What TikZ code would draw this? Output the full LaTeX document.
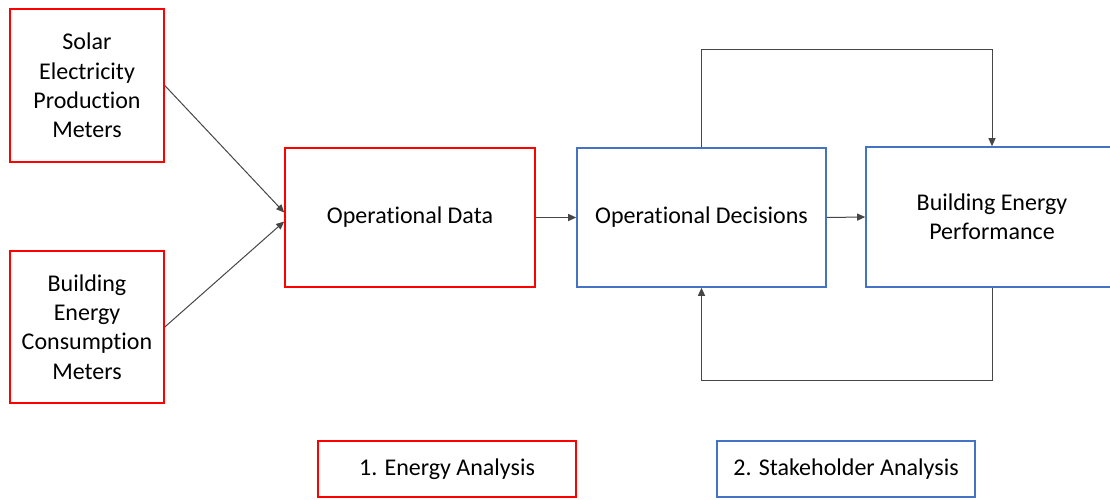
\documentclass[tikz,border=0pt]{standalone}
\usepackage{fontspec}
\setmainfont[Ligatures={NoCommon,NoRare}]{Carlito}
\usetikzlibrary{arrows.meta,calc}
\definecolor{boxred}{RGB}{255,0,0}
\definecolor{boxblue}{RGB}{68,114,196}
\definecolor{conn}{RGB}{70,70,70}
\tikzset{
  redbox/.style={draw=boxred, line width=1.6bp, fill=white, align=center, inner sep=2bp,
    font=\fontsize{24bp}{29.3bp}\selectfont},
  bluebox/.style={draw=boxblue, line width=1.6bp, fill=white, align=center, inner sep=2bp,
    font=\fontsize{24bp}{29.3bp}\selectfont},
  link/.style={draw=conn, line width=1bp, -{Triangle[length=8bp,width=7bp]}},
}
\begin{document}
\begin{tikzpicture}[x=1bp,y=-1bp]
\clip (0,0) rectangle (1110,500);
\fill[white] (0,0) rectangle (1110,500);
\node[redbox, minimum width=154bp, minimum height=153bp] (solar) at (87,85.5) {Solar\\Electricity\\Production\\Meters};
\node[redbox, minimum width=154bp, minimum height=152bp] (cons) at (87,327) {Building\\Energy\\Consumption\\Meters};
\node[redbox, minimum width=250bp, minimum height=139bp] (data) at (410,217.5) {Operational Data};
\node[bluebox, minimum width=249bp, minimum height=139bp] (dec) at (701.5,217.5) {Operational Decisions};
\node[bluebox, minimum width=252bp, minimum height=140bp] (bep) at (992,217) {Building Energy\\Performance};
\node[redbox, minimum width=258bp, minimum height=56bp] (ea) at (447,469) {1. Energy Analysis};
\node[bluebox, minimum width=258bp, minimum height=56bp] (sa) at (846,469) {2. Stakeholder Analysis};
\coordinate (toprow) at (0,50);
\coordinate (botrow) at (0,381);
\draw[link] (solar.east) -- ($(data.west)+(0,-5)$);
\draw[link] (cons.east) -- ($(data.west)+(0,4)$);
\draw[link] (data.east) -- (dec.west);
\draw[link] (dec.east) -- (bep.west);
\draw[link] (dec.north) -- (dec.north |- toprow) -| (bep.north);
\draw[link] (bep.south) -- (bep.south |- botrow) -| (dec.south);
\end{tikzpicture}
\end{document}
